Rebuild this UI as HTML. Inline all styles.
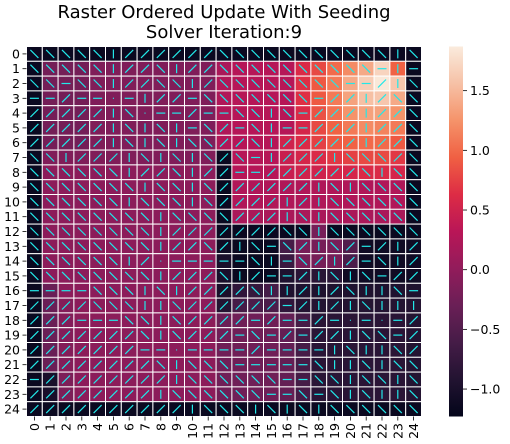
<!DOCTYPE html>
<html><head><meta charset="utf-8">
<style>
html,body{margin:0;padding:0;background:#fff;}
svg{display:block;font-family:"DejaVu Sans","Liberation Sans",sans-serif;}
</style></head>
<body>
<svg id="chart" width="510" height="444" viewBox="0 0 510 444">
  <text x="224" y="18" font-size="18" text-anchor="middle" fill="#000">Raster Ordered Update With Seeding</text>
  <text x="224" y="38" font-size="18" text-anchor="middle" fill="#000">Solver Iteration:9</text>
  <g id="cells"></g>
  <g id="arrows"></g>
  <g id="yaxis"></g>
  <g id="xaxis"></g>
  <defs>
    <linearGradient id="cbgrad" x1="0" y1="1" x2="0" y2="0">
      <stop offset="0" stop-color="#03051A"/><stop offset="0.1" stop-color="#221331"/>
      <stop offset="0.2" stop-color="#451C47"/><stop offset="0.3" stop-color="#6A1F56"/>
      <stop offset="0.4" stop-color="#921C5B"/><stop offset="0.5" stop-color="#B91657"/>
      <stop offset="0.6" stop-color="#DD2C45"/><stop offset="0.7" stop-color="#F06043"/>
      <stop offset="0.8" stop-color="#F5936A"/><stop offset="0.9" stop-color="#F6C1A6"/>
      <stop offset="1" stop-color="#FAEBDD"/>
    </linearGradient>
  </defs>
  <rect x="449" y="46.5" width="14" height="370" fill="url(#cbgrad)"/>
  <g id="cbticks"></g>
</svg>
<script>
const vmin = -1.23, vmax = 1.87;
const cbTicks = [1.5, 1.0, 0.5, 0.0, -0.5, -1.0];
const cbTickLabels = ["1.5", "1.0", "0.5", "0.0", "\u22120.5", "\u22121.0"];
const rowLabels = Array.from({length:25}, (_, i) => String(i));
const colLabels = Array.from({length:25}, (_, i) => String(i));
const D = -1.15, A = -0.22, B = -0.13, C = -0.04;
const values = [
 [D,D,D,D,D,D,D,D,D,D,D,D,D,D,D,D,D,D,D,D,D,D,D,D,D],
 [D,A,A,A,B,B,B,B,B,B,B,B,0.2,0.3,0.3,0.3,0.3,0.6,0.8,1.0,1.2,1.4,1.7,0.95,D],
 [D,A,A,A,B,B,B,B,B,B,B,B,0.25,0.3,0.3,0.3,0.3,0.65,0.9,1.1,1.4,1.65,1.85,1.6,D],
 [D,A,A,A,B,B,B,B,B,B,B,B,0.25,0.3,0.3,0.3,0.3,0.65,0.9,1.1,1.35,1.55,1.6,1.4,D],
 [D,A,A,A,B,B,B,B,B,B,B,B,0.25,0.3,0.3,0.3,0.3,0.6,0.85,1.05,1.25,1.35,1.35,1.25,D],
 [D,A,A,A,B,B,B,B,B,B,B,B,0.25,0.3,0.3,0.3,0.3,0.55,0.8,0.95,1.1,1.2,1.15,1.1,D],
 [D,A,A,A,B,B,B,B,B,B,B,B,0.25,0.3,0.3,0.3,0.5,0.6,0.75,0.9,0.95,1.0,1.0,0.9,D],
 [D,B,B,B,B,B,B,B,B,B,B,B,D,0.3,0.3,0.3,0.45,0.55,0.6,0.7,0.75,0.8,0.8,0.7,D],
 [D,C,C,C,C,C,C,C,C,C,C,C,D,0.3,0.3,0.3,0.45,0.5,0.5,0.55,0.55,0.6,0.6,0.55,D],
 [D,C,C,C,C,C,C,C,C,C,C,C,D,0.25,0.25,0.25,0.25,0.25,0.25,0.25,0.25,0.25,0.25,0.25,D],
 [D,C,C,C,C,C,C,C,C,C,C,C,D,0.25,0.25,0.25,0.25,0.25,0.25,0.25,0.25,0.25,0.25,0.25,D],
 [D,C,C,C,C,C,C,C,C,C,C,C,D,0.2,0.2,0.2,0.2,0.2,0.2,0.2,0.2,0.2,0.2,0.2,D],
 [D,C,C,C,C,C,C,C,C,C,C,C,D,D,D,D,D,D,-0.2,D,D,D,D,D,D],
 [D,C,C,C,C,C,C,C,C,C,C,C,-1.1,-1.15,-1.15,-1.15,-0.6,-0.2,-0.2,-0.2,-0.5,-1.1,-1.1,-1.1,-1.1],
 [D,C,C,C,C,C,C,C,C,C,C,C,-1.0,-1.15,-1.15,-1.15,-0.7,-0.2,-0.2,-0.2,-0.55,-1.1,-1.1,-1.1,-1.1],
 [D,C,C,C,C,C,C,C,C,C,C,C,-1.0,-1.15,-1.15,-1.15,-0.95,-0.85,-0.85,-0.85,-1.1,-1.1,-1.1,-1.1,-1.1],
 [D,-0.3,C,C,C,C,C,C,C,C,C,C,-1.0,-0.8,-0.75,-0.6,-0.95,-0.95,-0.95,-0.95,-0.95,-0.95,-0.95,-0.95,-0.95],
 [D,-0.3,-0.1,C,C,C,C,C,C,C,C,C,-0.9,-0.6,-0.55,-0.55,-0.8,-0.9,-0.9,-0.9,-0.9,-0.9,-0.9,-0.9,-0.9],
 [D,-0.3,-0.1,C,C,C,C,C,C,C,C,C,-0.3,-0.25,-0.25,-0.25,-0.35,-0.6,-0.85,-0.85,-0.85,-0.85,-0.85,-0.85,-0.9],
 [D,-0.3,-0.1,C,C,C,C,C,C,C,C,C,-0.25,-0.25,-0.25,-0.25,-0.35,-0.6,-0.85,-0.85,-0.85,-0.85,-0.85,-0.85,-0.9],
 [D,-0.3,-0.1,C,C,C,C,C,C,C,C,C,-0.25,-0.25,-0.25,-0.25,-0.35,-0.6,-0.85,-0.85,-0.85,-0.85,-0.85,-0.85,-0.9],
 [D,-0.3,-0.1,C,C,C,C,C,C,C,C,C,-0.25,-0.25,-0.25,-0.25,-0.35,-0.6,-0.85,-0.85,-0.85,-0.85,-0.85,-0.85,-0.9],
 [D,-1.0,-0.15,C,C,C,C,C,C,C,C,C,-0.25,-0.25,-0.25,-0.25,-0.35,-0.6,-0.85,-0.85,-0.85,-0.85,-0.85,-0.85,-0.9],
 [D,-1.0,-0.15,C,C,C,C,C,C,C,C,C,-0.25,-0.25,-0.25,-0.25,-0.35,-0.6,-0.85,-0.85,-0.85,-0.85,-0.85,-0.85,-0.9],
 [D,D,D,D,D,D,D,D,D,D,D,D,D,D,D,D,D,D,D,D,D,D,D,D,D]
];
const arrowDirs = [
 "dddddvuuuuuudddddddddddvd",
 "dddddvuudvuuddddddddddhvh",
 "ddhddvuuddvuddddddddhhuvd",
 "hhuhh.hvuuhdddddddhuuvudd",
 "uuuuuvd.hhuhhddvdhuuuvuud",
 "uuuuuvdvdvhduhdvhhuuuvuud",
 "uuuuuvdvdvdduudvuuuuuvuud",
 "ddvuuuvdvdvdudhvuuuvdddud",
 "ddddddvuudvuuhhuuuuuudvdd",
 "dddddddvddvduuuuuuvdvdddd",
 "ddddddvdddvduuuuvuvdddddd",
 "ddddddddvdddduuuvdvdddddd",
 "ddddddddvuuuuuuuddvdddddd",
 "ddddddddvuuduvdhduvduhuvu",
 "ddddddvu.hhhhhdvhduvuhdvu",
 "ddddddddvuuudvuhhuvdvdhuu",
 "hhhhdddvdvuuuudvvuvudvvdh",
 "uuuudddvvduuuuuuhuvuvdvvv",
 "uuuhhhddvduuuuhuhhuh.h.hu",
 "uuuuuuudvduuuhdhuhuuvddhu",
 "uuuuuuuhh.hhhhuhhhhvdvvdu",
 "uuuuuuuudvdddhhhhhdvvdvdd",
 "huuuuuuuuvddddddhhddvddvd",
 "uuuuuuuuvddddddhhdhdvdvvd",
 "uuuuuuuuuuvdddvdvdvdddddd"
];

const NS = "http://www.w3.org/2000/svg";
const X0 = 26.5, Y0 = 46.5, CW = 395/25, CH = 370/25;
const xPos = c => X0 + c*CW;
const yPos = r => Y0 + r*CH;
const cbY = v => 46.5 + (vmax - v)/(vmax - vmin)*370;

const stops = [[0,[3,5,26]],[0.1,[34,19,49]],[0.2,[69,28,71]],[0.3,[106,31,86]],[0.4,[146,28,91]],[0.5,[185,22,87]],[0.6,[221,44,69]],[0.7,[240,96,67]],[0.8,[245,147,106]],[0.9,[246,193,166]],[1,[250,235,221]]];
function rocket(v){
  let t = Math.max(0, Math.min(1, (v - vmin)/(vmax - vmin)));
  for (let i=1;i<stops.length;i++){
    if (t <= stops[i][0]){
      const a=stops[i-1], b=stops[i], f=(t-a[0])/(b[0]-a[0]);
      const c=a[1].map((x,k)=>Math.round(x+(b[1][k]-x)*f));
      return `rgb(${c[0]},${c[1]},${c[2]})`;
    }
  }
  return "rgb(250,235,221)";
}

const cells = document.getElementById("cells");
const arrows = document.getElementById("arrows");
values.forEach((row, r) => row.forEach((v, c) => {
  const rect = document.createElementNS(NS, "rect");
  rect.setAttribute("x", xPos(c)); rect.setAttribute("y", yPos(r));
  rect.setAttribute("width", CW); rect.setAttribute("height", CH);
  rect.setAttribute("fill", rocket(v));
  rect.setAttribute("stroke", "#fff"); rect.setAttribute("stroke-width", "1");
  
  
  cells.appendChild(rect);
}));

arrowDirs.forEach((s, r) => { for (let c=0;c<s.length;c++){
  const ch = s[c];
  const cx = xPos(c)+CW/2, cy = yPos(r)+CH/2;
  let dx=0, dy=0;
  if (ch==='d'){dx=4;dy=4;} else if (ch==='u'){dx=4;dy=-4;}
  else if (ch==='v'){dx=0;dy=4.5;} else if (ch==='h'){dx=4.5;dy=0;} else {dx=0.5;dy=0;}
  const ln = document.createElementNS(NS, "line");
  ln.setAttribute("x1", cx-dx); ln.setAttribute("y1", cy-dy);
  ln.setAttribute("x2", cx+dx); ln.setAttribute("y2", cy+dy);
  ln.setAttribute("stroke", "#22e8e8"); ln.setAttribute("stroke-width", "1.2");
  
  
  arrows.appendChild(ln);
}});

const yaxis = document.getElementById("yaxis");
rowLabels.forEach((lab, r) => {
  const y = yPos(r)+CH/2;
  const t = document.createElementNS(NS, "line");
  t.setAttribute("x1", 22.5); t.setAttribute("x2", 26.5); t.setAttribute("y1", y); t.setAttribute("y2", y);
  t.setAttribute("stroke", "#000"); t.setAttribute("stroke-width", "0.8");
  
  
  yaxis.appendChild(t);
  const tx = document.createElementNS(NS, "text");
  tx.setAttribute("x", 20); tx.setAttribute("y", y+4.5);
  tx.setAttribute("text-anchor", "end"); tx.setAttribute("font-size", "12.5");
  tx.textContent = lab;
  
  
  yaxis.appendChild(tx);
});
const xaxis = document.getElementById("xaxis");
colLabels.forEach((lab, c) => {
  const x = xPos(c)+CW/2;
  const t = document.createElementNS(NS, "line");
  t.setAttribute("x1", x); t.setAttribute("x2", x); t.setAttribute("y1", 416.5); t.setAttribute("y2", 420.5);
  t.setAttribute("stroke", "#000"); t.setAttribute("stroke-width", "0.8");
  
  
  xaxis.appendChild(t);
  const tx = document.createElementNS(NS, "text");
  tx.setAttribute("transform", `translate(${x+4.5},423) rotate(-90)`);
  tx.setAttribute("text-anchor", "end"); tx.setAttribute("font-size", "12.5");
  tx.textContent = lab;
  
  
  xaxis.appendChild(tx);
});
const cbt = document.getElementById("cbticks");
cbTicks.forEach((v, i) => {
  const y = cbY(v);
  const t = document.createElementNS(NS, "line");
  t.setAttribute("x1", 463); t.setAttribute("x2", 467); t.setAttribute("y1", y); t.setAttribute("y2", y);
  t.setAttribute("stroke", "#000"); t.setAttribute("stroke-width", "0.8");
  
  
  cbt.appendChild(t);
  const tx = document.createElementNS(NS, "text");
  tx.setAttribute("x", 470); tx.setAttribute("y", y+4.5); tx.setAttribute("font-size", "12.5");
  tx.textContent = cbTickLabels[i];
  
  
  cbt.appendChild(tx);
});
</script>
</body></html>
